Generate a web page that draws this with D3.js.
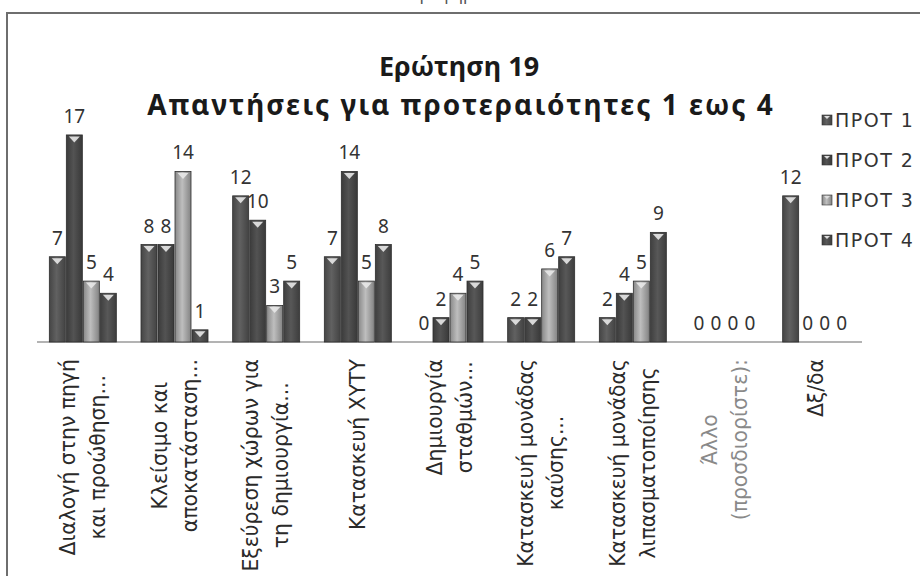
<!DOCTYPE html>
<html>
<head>
<meta charset="utf-8">
<title>Ερώτηση 19</title>
<script src="https://cdn.jsdelivr.net/npm/d3@7"></script>
<style>
  body { margin: 0; background: #fff; }
  svg { display: block; }
  .title { font-family: "Noto Sans", sans-serif; font-weight: bold; fill: #1a1a1a; text-anchor: middle; }
  .val { font-family: "Noto Sans", sans-serif; font-size: 19px; fill: #333; text-anchor: middle; }
  .cat text { font-family: "DejaVu Sans", sans-serif; font-size: 20.4px; fill: #2a2a2a; }
  .legend text { font-family: "DejaVu Sans", sans-serif; font-size: 19px; fill: #333; letter-spacing: 1.5px; }
</style>
</head>
<body>
<svg width="920" height="576"></svg>
<script>

// categories (each entry = the lines of the axis label)
var categories = [
  ["Διαλογή στην πηγή", "και προώθηση..."],
  ["Κλείσιμο και", "αποκατάσταση..."],
  ["Εξεύρεση χώρων για", "τη δημιουργία..."],
  ["Κατασκευή ΧΥΤΥ"],
  ["Δημιουργία", "σταθμών..."],
  ["Κατασκευή μονάδας", "καύσης..."],
  ["Κατασκευή μονάδας", "λιπασματοποίησης"],
  ["Άλλο", "(προσδιορίστε):"],
  ["Δξ/δα"]
];

var seriesNames = ["ΠΡΟΤ 1", "ΠΡΟΤ 2", "ΠΡΟΤ 3", "ΠΡΟΤ 4"];

var prot1 = [7, 8, 12, 7, 0, 2, 2, 0, 12];
var prot2 = [17, 8, 10, 14, 2, 2, 4, 0, 0];
var prot3 = [5, 14, 3, 5, 4, 6, 5, 0, 0];
var prot4 = [4, 1, 5, 8, 5, 7, 9, 0, 0];

var values = [prot1, prot2, prot3, prot4];
var colors = ["#565656", "#494949", "#a8a8a8", "#4e4e4e"];

var svg = d3.select("svg"),
    width = +svg.attr("width"),
    height = +svg.attr("height");

// frame of the scanned chart (caption above is cut by the page edge)
svg.append("text")
    .attr("x", 460).attr("y", 0)
    .attr("text-anchor", "middle")
    .style("font-family", "Noto Sans").style("font-size", "17px").style("fill", "#555")
    .text("Γράφημα 19");
svg.append("path")
    .attr("d", "M7,576 V13 H920")
    .attr("fill", "none").attr("stroke", "#6e6e6e").attr("stroke-width", 2);

svg.append("text").attr("class", "title")
    .attr("x", 459).attr("y", 76).style("font-size", "27px")
    .text("Ερώτηση 19");
svg.append("text").attr("class", "title")
    .attr("x", 461).attr("y", 115).style("font-size", "28px").style("letter-spacing", "2px")
    .text("Απαντήσεις για προτεραιότητες 1 εως 4");

var defs = svg.append("defs");
colors.forEach(function(c, i) {
  var g = defs.append("linearGradient").attr("id", "grad" + i)
      .attr("x1", "0%").attr("x2", "100%").attr("y1", "0%").attr("y2", "0%");
  g.append("stop").attr("offset", "0%").attr("stop-color", d3.color(c).darker(0.6));
  g.append("stop").attr("offset", "45%").attr("stop-color", d3.color(c).brighter(0.35));
  g.append("stop").attr("offset", "100%").attr("stop-color", d3.color(c).darker(0.7));
});

var x0 = d3.scaleBand()
    .domain(d3.range(categories.length))
    .range([37, 862])
    .paddingInner(0.258)
    .paddingOuter(0.129);

var x1 = d3.scaleBand()
    .domain(d3.range(seriesNames.length))
    .range([0, x0.bandwidth()]);

var y = d3.scaleLinear()
    .domain([0, 18])
    .range([342, 342 - 18 * 12.18]);

// baseline
svg.append("line")
    .attr("x1", 37).attr("x2", 862)
    .attr("y1", y(0)).attr("y2", y(0))
    .attr("stroke", "#9a9a9a").attr("stroke-width", 1.5);

var cells = [];
categories.forEach(function(c, ci) {
  values.forEach(function(s, si) {
    cells.push({cat: ci, ser: si, v: s[ci]});
  });
});

var bar = svg.append("g").selectAll("g")
  .data(cells)
  .enter().append("g")
    .attr("transform", function(d) { return "translate(" + (x0(d.cat) + x1(d.ser)) + ",0)"; });

bar.filter(function(d) { return d.v > 0; }).append("rect")
    .attr("x", 0.5)
    .attr("y", function(d) { return y(d.v); })
    .attr("width", x1.bandwidth() - 1)
    .attr("height", function(d) { return y(0) - y(d.v); })
    .attr("fill", function(d) { return "url(#grad" + d.ser + ")"; })
    .attr("stroke", "#2e2e2e").attr("stroke-width", 0.8);

bar.filter(function(d) { return d.v > 0; }).append("path")
    .attr("d", function(d) {
      var t = y(d.v) + 1.5, w = x1.bandwidth();
      return "M" + 3 + "," + t + "L" + (w - 3) + "," + t + "L" + (w / 2) + "," + (t + 6) + "Z";
    })
    .attr("fill", "#e8e8e8").attr("opacity", 0.9);

bar.append("text").attr("class", "val")
    .attr("x", x1.bandwidth() / 2)
    .attr("y", function(d) { return y(d.v) - 12; })
    .text(function(d) { return d.v; });

// category labels, rotated, block ends at the axis
var cat = svg.append("g").attr("class", "cat").selectAll("g")
  .data(categories)
  .enter().append("g")
    .attr("transform", function(d, i) { return "translate(" + (x0(i) + x0.bandwidth() / 2) + ",359) rotate(-90)"; })
    .style("opacity", function(d, i) { return i == 7 ? 0.55 : 1; });

cat.each(function(lines) {
  var g = d3.select(this);
  var n = lines.length;
  var texts = lines.map(function(l, li) {
    return g.append("text")
      .attr("y", (li - (n - 1) / 2) * 30)
      .attr("dy", "0.35em")
      .attr("text-anchor", "middle")
      .text(l);
  });
  var maxLen = d3.max(texts, function(t) { return t.node().getComputedTextLength(); });
  texts.forEach(function(t) { t.attr("x", -maxLen / 2); });
});

// legend
var legend = svg.append("g").attr("class", "legend").selectAll("g")
  .data(seriesNames)
  .enter().append("g")
    .attr("transform", function(d, i) { return "translate(822," + (120 + i * 40) + ")"; });

legend.append("rect")
    .attr("x", 0).attr("y", -5).attr("width", 10).attr("height", 10)
    .attr("fill", function(d, i) { return "url(#grad" + i + ")"; })
    .attr("stroke", "#333").attr("stroke-width", 0.6);
legend.append("path")
    .attr("d", "M2,-4L8,-4L5,-1Z").attr("fill", "#ddd");
legend.append("text")
    .attr("x", 13).attr("dy", "0.36em")
    .text(function(d) { return d; });

</script>
</body>
</html>
